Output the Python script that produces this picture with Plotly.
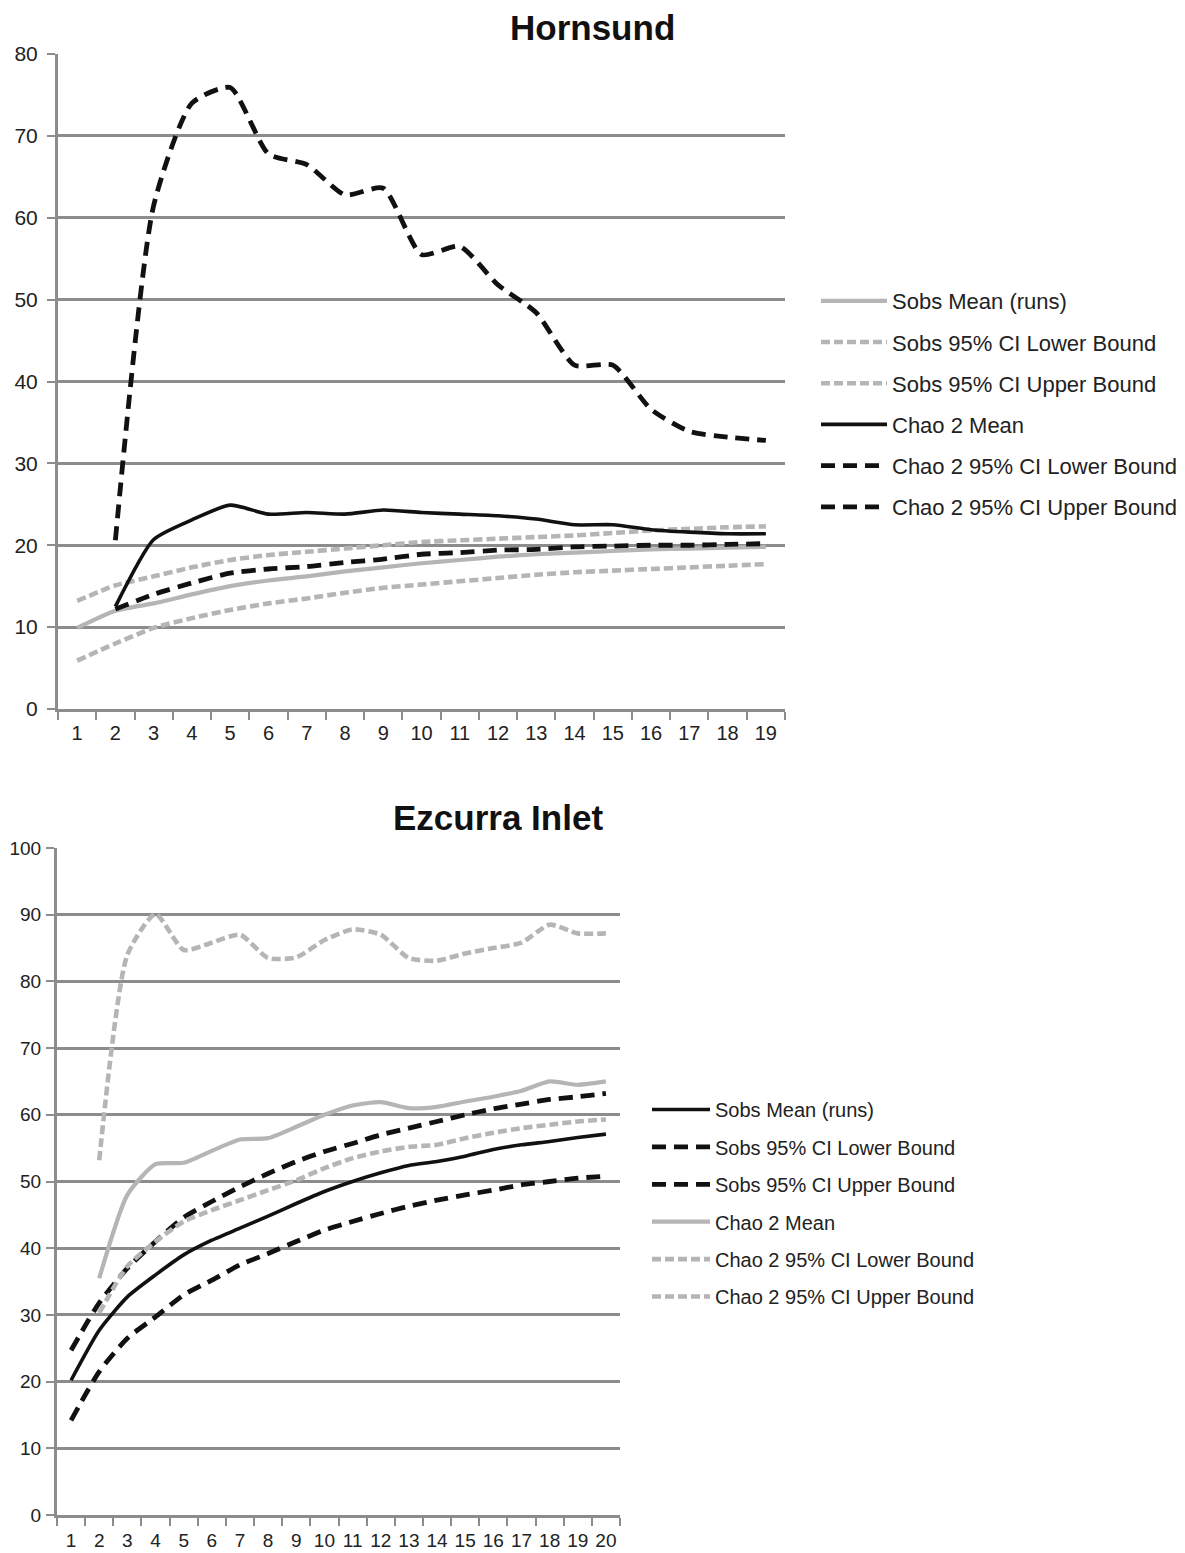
import plotly.graph_objects as go

# ---------------- data ----------------
x_h = [str(i) for i in range(1, 20)]
x_e = [str(i) for i in range(1, 21)]

# Hornsund
h_sobs_mean = [9.9, 12.0, 12.9, 14.0, 15.0, 15.7, 16.2, 16.8, 17.3, 17.8, 18.2, 18.6, 18.9, 19.1, 19.3, 19.5, 19.6, 19.7, 19.8]
h_sobs_lower = [5.9, 8.0, 9.9, 11.1, 12.1, 12.9, 13.5, 14.2, 14.8, 15.2, 15.6, 16.0, 16.4, 16.7, 16.9, 17.1, 17.3, 17.5, 17.7]
h_sobs_upper = [13.2, 15.1, 16.2, 17.3, 18.2, 18.8, 19.2, 19.6, 20.0, 20.4, 20.6, 20.8, 21.0, 21.2, 21.5, 21.8, 22.0, 22.2, 22.3]
h_chao_mean = [None, 12.5, 20.7, 23.1, 24.9, 23.8, 24.0, 23.8, 24.3, 24.0, 23.8, 23.6, 23.2, 22.5, 22.5, 21.9, 21.6, 21.4, 21.4]
h_chao_lower = [None, 12.2, 14.0, 15.4, 16.6, 17.1, 17.4, 17.9, 18.3, 18.9, 19.1, 19.4, 19.5, 19.8, 19.9, 20.0, 20.0, 20.1, 20.2]
h_chao_upper = [None, 20.6, 61.5, 74.0, 75.9, 67.8, 66.5, 62.8, 63.6, 55.5, 56.5, 51.8, 48.4, 42.0, 42.0, 36.6, 33.9, 33.2, 32.8]

# Ezcurra Inlet
e_sobs_mean = [20.2, 27.7, 32.7, 36.0, 39.0, 41.2, 43.0, 44.8, 46.7, 48.5, 50.0, 51.3, 52.4, 53.0, 53.8, 54.8, 55.5, 56.0, 56.6, 57.1]
e_sobs_lower = [14.2, 21.5, 26.5, 29.7, 33.0, 35.2, 37.5, 39.2, 41.0, 42.7, 44.0, 45.2, 46.3, 47.2, 48.0, 48.7, 49.5, 50.0, 50.5, 50.8]
e_sobs_upper = [24.7, 31.8, 37.0, 41.0, 44.6, 47.0, 49.2, 51.2, 53.0, 54.5, 55.7, 57.0, 58.0, 59.0, 60.0, 60.9, 61.6, 62.3, 62.7, 63.2]
e_chao_mean = [None, 35.5, 48.0, 52.6, 52.8, 54.6, 56.3, 56.5, 58.2, 60.0, 61.4, 61.9, 61.0, 61.2, 62.0, 62.7, 63.6, 65.0, 64.5, 65.0]
e_chao_lower = [None, 30.3, 37.3, 41.0, 44.0, 45.7, 47.2, 48.7, 50.2, 52.0, 53.5, 54.5, 55.2, 55.5, 56.5, 57.3, 58.0, 58.5, 59.0, 59.3]
e_chao_upper = [None, 53.2, 84.0, 90.1, 84.7, 85.8, 87.0, 83.5, 83.6, 86.2, 87.8, 87.0, 83.5, 83.1, 84.2, 85.0, 85.8, 88.5, 87.2, 87.2]

names = ["Sobs Mean (runs)", "Sobs 95% CI Lower Bound", "Sobs 95% CI Upper Bound",
         "Chao 2 Mean", "Chao 2 95% CI Lower Bound", "Chao 2 95% CI Upper Bound"]

# ---------------- styles ----------------
GRAY = "#b5b5b5"
BLACK = "#111111"
GRID = "#8c8c8c"
FONT = "Liberation Sans, Arial, sans-serif"
GRAY_SOLID = dict(color=GRAY, width=4.2, dash="solid")
GRAY_DASH = dict(color=GRAY, width=4.6, dash="9px,4px")
BLACK_SOLID = dict(color=BLACK, width=3.6, dash="solid")
BLACK_DASH = dict(color=BLACK, width=4.8, dash="14px,8px")

fig = go.Figure()

def add(xv, yv, name, style, xa, ya, leg, grp):
    fig.add_trace(go.Scatter(
        x=xv, y=yv, name=name, mode="lines",
        line=dict(shape="spline", smoothing=0.6, **style),
        xaxis=xa, yaxis=ya, legend=leg, legendgroup=grp,
        connectgaps=False, hoverinfo="x+y+name"))

top_series = [h_sobs_mean, h_sobs_lower, h_sobs_upper, h_chao_mean, h_chao_lower, h_chao_upper]
top_styles = [GRAY_SOLID, GRAY_DASH, GRAY_DASH, BLACK_SOLID, BLACK_DASH, BLACK_DASH]
for i, (s, st) in enumerate(zip(top_series, top_styles)):
    add(x_h, s, names[i], st, "x", "y", "legend", "h%d" % i)

bot_series = [e_sobs_mean, e_sobs_lower, e_sobs_upper, e_chao_mean, e_chao_lower, e_chao_upper]
bot_styles = [BLACK_SOLID, BLACK_DASH, BLACK_DASH, GRAY_SOLID, GRAY_DASH, GRAY_DASH]
for i, (s, st) in enumerate(zip(bot_series, bot_styles)):
    add(x_e, s, names[i], st, "x2", "y2", "legend2", "e%d" % i)

# page body adds an 8px offset; lay out in screen pixels
OFF = 8
W, H = 1185 - OFF, 1553 - OFF

def px(sx):
    return (sx - OFF) / W

def py(sy):
    return 1 - (sy - OFF) / H

def xcommon(n, size, standoff):
    return dict(type="category", range=[-0.5, n - 0.5], tickson="boundaries",
                ticks="outside", ticklen=8,
                tickwidth=2, tickcolor=GRID, showline=True, linecolor=GRID, linewidth=3,
                showgrid=False, zeroline=False, automargin=False, tickangle=0,
                ticklabelstandoff=standoff,
                tickfont=dict(family=FONT, size=size, color="#222"), fixedrange=True)

def ycommon(rng, size, standoff):
    return dict(range=rng, ticks="outside", ticklen=8, tickwidth=2, tickcolor=GRID,
                showline=True, linecolor=GRID, linewidth=3, showgrid=True,
                gridcolor=GRID, gridwidth=2.5, zeroline=False, automargin=False,
                dtick=10, ticklabelstandoff=standoff,
                tickfont=dict(family=FONT, size=size, color="#222"), fixedrange=True)

fig.update_layout(
    width=W, height=H, autosize=False,
    margin=dict(l=0, r=0, t=0, b=0),
    paper_bgcolor="white", plot_bgcolor="white",
    template="none",
    xaxis=dict(domain=[px(58), px(785)], anchor="y", **xcommon(len(x_h), 20, 4)),
    yaxis=dict(domain=[py(709), py(54)], anchor="x", **ycommon([0, 80], 21, 5)),
    xaxis2=dict(domain=[px(57), px(620)], anchor="y2", **xcommon(len(x_e), 19, 6)),
    yaxis2=dict(domain=[py(1515), py(848)], anchor="x2", **ycommon([0, 100], 19, 1)),
    legend=dict(x=px(816), y=py(280), xanchor="left", yanchor="top",
                font=dict(family=FONT, size=22, color="#222"), itemwidth=66,
                tracegroupgap=9.6, bgcolor="rgba(0,0,0,0)", traceorder="grouped"),
    legend2=dict(x=px(647), y=py(1090), xanchor="left", yanchor="top",
                 font=dict(family=FONT, size=20, color="#222"), itemwidth=58,
                 tracegroupgap=8.4, bgcolor="rgba(0,0,0,0)", traceorder="grouped"),
    showlegend=True,
    annotations=[
        dict(text="<b>Hornsund</b>", x=px(592), y=py(28), xref="paper", yref="paper",
             xanchor="center", yanchor="middle", showarrow=False,
             font=dict(family=FONT, size=35, color="#111")),
        dict(text="<b>Ezcurra Inlet</b>", x=px(498), y=py(817), xref="paper", yref="paper",
             xanchor="center", yanchor="middle", showarrow=False,
             font=dict(family=FONT, size=35, color="#111")),
    ],
)

fig.write_html("out.html")
